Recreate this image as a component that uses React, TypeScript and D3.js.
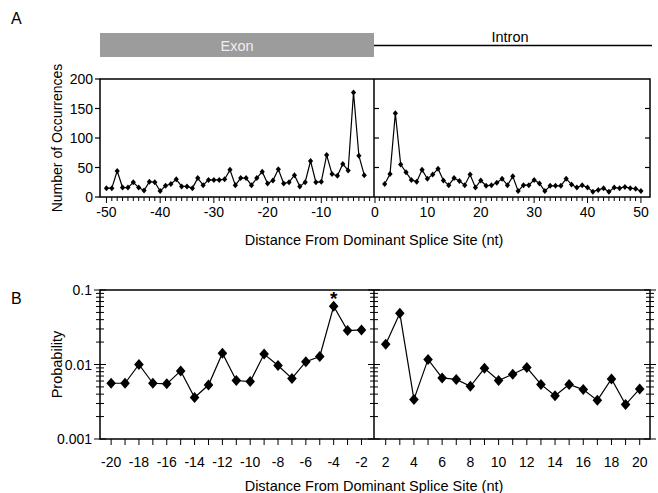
import React, { useRef, useEffect } from 'react';
import * as d3 from 'd3';

// Panel A: counts per position
const exonPos = d3.range(-50, -1);
const exonCounts = [15, 15, 44, 16, 16, 25, 16, 11, 26, 25, 10, 19, 22, 30, 18, 18, 15, 32, 20, 29, 29, 29, 30, 46, 20, 32, 32, 20, 32, 43, 23, 28, 47, 23, 25, 37, 18, 25, 61, 25, 26, 71, 39, 36, 56, 45, 177, 70, 37];
const intronPos = d3.range(2, 51);
const intronCounts = [22, 39, 142, 55, 42, 29, 26, 46, 31, 38, 48, 28, 20, 32, 27, 20, 38, 16, 28, 19, 20, 24, 31, 20, 35, 10, 20, 20, 29, 23, 10, 19, 19, 19, 31, 21, 16, 20, 16, 9, 12, 15, 9, 16, 15, 17, 15, 14, 10];

// Panel B: probability per position
const exonPosB = d3.range(-20, -1);
const exonProb = [0.0056, 0.0056, 0.0100, 0.0056, 0.0055, 0.0082, 0.0036, 0.0053, 0.0142, 0.0061, 0.0059, 0.0138, 0.0097, 0.0065, 0.0109, 0.0128, 0.0604, 0.0285, 0.0291];
const intronPosB = d3.range(2, 21);
const intronProb = [0.0187, 0.0487, 0.0034, 0.0117, 0.0066, 0.0063, 0.0051, 0.0089, 0.0061, 0.0074, 0.0091, 0.0054, 0.0038, 0.0054, 0.0046, 0.0033, 0.0064, 0.0029, 0.0047];

const yTicksA = [0, 50, 100, 150, 200];
const xTicksAL = [-50, -40, -30, -20, -10, 0];
const xTicksAR = [10, 20, 30, 40, 50];
const yTicksB = [0.001, 0.01, 0.1];
const yLabelsB = ['0.001', '0.01', '0.1'];

const font = 'Liberation Sans, Arial, sans-serif';

// diamond marker with half-width w and half-height h
const diamond = (w: number, h: number) => `M0,${-h}L${w},0L0,${h}L${-w},0Z`;

const App: React.FC = () => {
    const svgRef = useRef<SVGSVGElement>(null);

    useEffect(() => {
        if (!svgRef.current) return;
        const svg = d3.select(svgRef.current);
        svg.selectAll('*').remove();

        const left = 100, mid = 374, right = 650;

        // ---------- Panel A ----------
        const yA = d3.scaleLinear().domain([0, 200]).range([197, 79]);
        const xAL = d3.scaleLinear().domain([-51.2, 0]).range([left, 375]);
        const xAR = d3.scaleLinear().domain([0, 51.7]).range([mid, right]);

        svg.append('text').attr('x', 11).attr('y', 24).text('A')
            .style('font-family', font).style('font-size', '16px');

        // exon / intron header
        svg.append('rect').attr('x', left).attr('y', 33).attr('width', mid - left).attr('height', 24)
            .attr('fill', '#9c9c9c');
        svg.append('text').attr('x', (left + mid) / 2).attr('y', 51).attr('text-anchor', 'middle')
            .text('Exon').attr('fill', '#eeeeee').style('font-family', font).style('font-size', '14.5px');
        svg.append('line').attr('x1', mid).attr('x2', right + 2).attr('y1', 45.5).attr('y2', 45.5)
            .attr('stroke', '#000').attr('stroke-width', 1.3);
        svg.append('text').attr('x', 510).attr('y', 42).attr('text-anchor', 'middle')
            .text('Intron').style('font-family', font).style('font-size', '14.5px');

        // frame
        const frameA = svg.append('g').attr('fill', 'none').attr('stroke', '#000').attr('stroke-width', 1.5);
        frameA.append('rect').attr('x', left).attr('y', yA(200)).attr('width', right - left).attr('height', yA(0) - yA(200));
        frameA.append('line').attr('x1', mid).attr('x2', mid).attr('y1', yA(200)).attr('y2', yA(0));

        // y ticks
        const ytA = svg.append('g');
        yTicksA.forEach(t => {
            ytA.append('line').attr('x1', left - 5).attr('x2', left).attr('y1', yA(t)).attr('y2', yA(t)).attr('stroke', '#000').attr('stroke-width', 1.2);
            ytA.append('text').attr('x', left - 7).attr('y', yA(t) + 5).attr('text-anchor', 'end').text(t)
                .style('font-family', font).style('font-size', '14px');
        });
        [50, 100, 150].forEach(t => {
            ytA.append('line').attr('x1', mid).attr('x2', mid + 5).attr('y1', yA(t)).attr('y2', yA(t)).attr('stroke', '#000').attr('stroke-width', 1.2);
            ytA.append('line').attr('x1', right - 5).attr('x2', right).attr('y1', yA(t)).attr('y2', yA(t)).attr('stroke', '#000').attr('stroke-width', 1.2);
        });

        // x ticks
        const xtA = svg.append('g').attr('stroke', '#000').attr('stroke-width', 1);
        d3.range(-50, 1).forEach(t => {
            xtA.append('line').attr('x1', xAL(t)).attr('x2', xAL(t)).attr('y1', yA(0)).attr('y2', yA(0) + (t % 10 === 0 ? 6 : 4));
        });
        d3.range(1, 51).forEach(t => {
            xtA.append('line').attr('x1', xAR(t)).attr('x2', xAR(t)).attr('y1', yA(0)).attr('y2', yA(0) + (t % 10 === 0 ? 6 : 4));
        });
        xTicksAL.forEach(t => {
            svg.append('text').attr('x', xAL(t)).attr('y', 217).attr('text-anchor', 'middle').text(t)
                .style('font-family', font).style('font-size', '14px');
        });
        xTicksAR.forEach(t => {
            svg.append('text').attr('x', xAR(t)).attr('y', 217).attr('text-anchor', 'middle').text(t)
                .style('font-family', font).style('font-size', '14px');
        });
        svg.append('text').attr('x', 374).attr('y', 245).attr('text-anchor', 'middle')
            .text('Distance From Dominant Splice Site (nt)').style('font-family', font).style('font-size', '14.5px');
        svg.append('text').attr('transform', `translate(62,${(yA(0) + yA(200)) / 2}) rotate(-90)`)
            .attr('text-anchor', 'middle').text('Number of Occurrences')
            .style('font-family', font).style('font-size', '14px');

        const drawA = (pos: number[], vals: number[], x: d3.ScaleLinear<number, number>) => {
            const line = d3.line<number>().x((_, i) => x(pos[i])).y(d => yA(d));
            svg.append('path').attr('d', line(vals)).attr('fill', 'none').attr('stroke', '#000').attr('stroke-width', 1.2);
            svg.append('g').selectAll('path').data(vals).enter().append('path')
                .attr('transform', (d, i) => `translate(${x(pos[i])},${yA(d)})`)
                .attr('d', diamond(2.6, 3)).attr('fill', '#000');
        };
        drawA(exonPos, exonCounts, xAL);
        drawA(intronPos, intronCounts, xAR);

        // ---------- Panel B ----------
        const yB = d3.scaleLog().domain([0.001, 0.1]).range([439, 290]);
        const xBL = d3.scaleLinear().domain([-20.8, -1.1]).range([left, mid]);
        const xBR = d3.scaleLinear().domain([1.17, 20.73]).range([mid, right]);

        svg.append('text').attr('x', 11).attr('y', 304).text('B')
            .style('font-family', font).style('font-size', '16px');

        const frameB = svg.append('g').attr('fill', 'none').attr('stroke', '#000').attr('stroke-width', 1.5);
        frameB.append('rect').attr('x', left).attr('y', yB(0.1)).attr('width', right - left).attr('height', yB(0.001) - yB(0.1));
        frameB.append('line').attr('x1', mid).attr('x2', mid).attr('y1', yB(0.1)).attr('y2', yB(0.001));

        // log ticks crossing each vertical axis
        const logTicks: number[] = [];
        [0.001, 0.01].forEach(dec => d3.range(1, 10).forEach(m => logTicks.push(dec * m)));
        logTicks.push(0.1);
        const ytB = svg.append('g').attr('stroke', '#000').attr('stroke-width', 1);
        [left, mid, right].forEach(ax => {
            logTicks.forEach(t => {
                const major = yTicksB.some(v => Math.abs(v - t) < 1e-9);
                const len = major ? 6 : 4;
                ytB.append('line').attr('x1', ax - len).attr('x2', ax + len).attr('y1', yB(t)).attr('y2', yB(t));
            });
        });
        yTicksB.forEach((t, i) => {
            svg.append('text').attr('x', left - 8).attr('y', yB(t) + 5).attr('text-anchor', 'end').text(yLabelsB[i])
                .style('font-family', font).style('font-size', '14px');
        });

        const xtB = svg.append('g').attr('stroke', '#000').attr('stroke-width', 1);
        exonPosB.forEach(t => {
            xtB.append('line').attr('x1', xBL(t)).attr('x2', xBL(t)).attr('y1', yB(0.001)).attr('y2', yB(0.001) + 6);
        });
        intronPosB.forEach(t => {
            xtB.append('line').attr('x1', xBR(t)).attr('x2', xBR(t)).attr('y1', yB(0.001)).attr('y2', yB(0.001) + 6);
        });
        exonPosB.filter(t => t % 2 === 0).forEach(t => {
            svg.append('text').attr('x', xBL(t)).attr('y', 467).attr('text-anchor', 'middle').text(t)
                .style('font-family', font).style('font-size', '14px');
        });
        intronPosB.filter(t => t % 2 === 0).forEach(t => {
            svg.append('text').attr('x', xBR(t)).attr('y', 467).attr('text-anchor', 'middle').text(t)
                .style('font-family', font).style('font-size', '14px');
        });
        svg.append('text').attr('x', 374).attr('y', 491).attr('text-anchor', 'middle')
            .text('Distance From Dominant Splice Site (nt)').style('font-family', font).style('font-size', '14.5px');
        svg.append('text').attr('transform', `translate(62,${(yB(0.1) + yB(0.001)) / 2}) rotate(-90)`)
            .attr('text-anchor', 'middle').text('Probability')
            .style('font-family', font).style('font-size', '14.5px');

        const drawB = (pos: number[], vals: number[], x: d3.ScaleLinear<number, number>) => {
            const line = d3.line<number>().x((_, i) => x(pos[i])).y(d => yB(d));
            svg.append('path').attr('d', line(vals)).attr('fill', 'none').attr('stroke', '#000').attr('stroke-width', 1.2);
            svg.append('g').selectAll('path').data(vals).enter().append('path')
                .attr('transform', (d, i) => `translate(${x(pos[i])},${yB(d)})`)
                .attr('d', diamond(4.8, 5.5)).attr('fill', '#000');
        };
        drawB(exonPosB, exonProb, xBL);
        drawB(intronPosB, intronProb, xBR);

        // significance mark
        const starIdx = exonPosB.indexOf(-4);
        svg.append('text').attr('x', xBL(-4)).attr('y', yB(exonProb[starIdx]) - 1.5).attr('text-anchor', 'middle')
            .text('*').style('font-family', font).style('font-size', '19px').style('font-weight', 'bold');
    }, []);

    return (
        <svg ref={svgRef} width={658} height={493}
            style={{ position: 'absolute', left: 0, top: 0, background: '#fff' }} />
    );
};

export default App;
